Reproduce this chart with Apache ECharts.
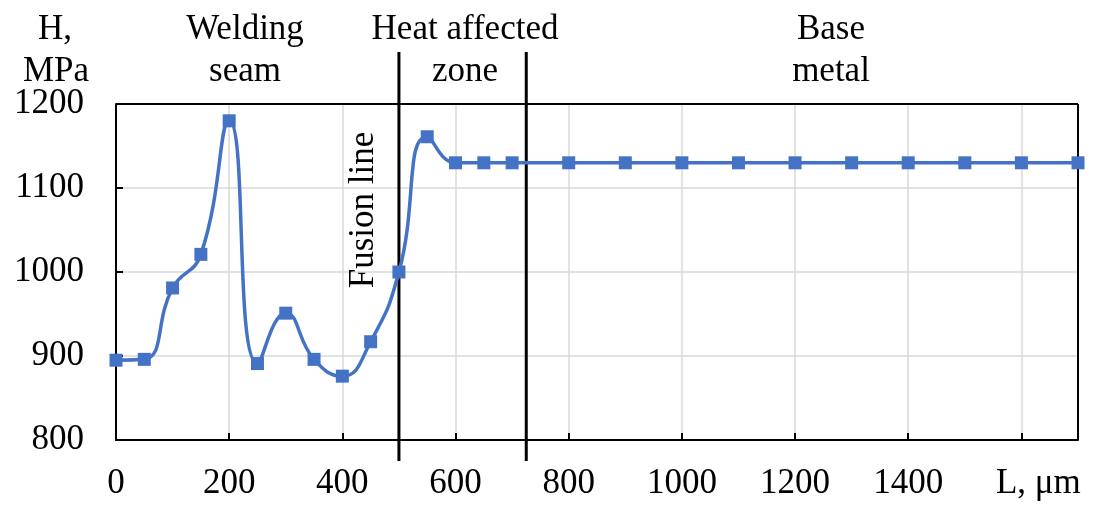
<!DOCTYPE html>
<html>
<head>
<meta charset="utf-8">
<script src="https://cdn.jsdelivr.net/npm/echarts@6/dist/echarts.min.js"></script>
<style>
  html, body { margin: 0; padding: 0; background: #fff; }
  #chart { width: 1096px; height: 506px; }
</style>
</head>
<body>
<div id="chart"></div>
<script>
// distance from the start, µm
const distance = [0, 50, 100, 150, 200, 250, 300, 350, 400, 450, 500, 550, 600, 650, 700,
  800, 900, 1000, 1100, 1200, 1300, 1400, 1500, 1600, 1700]
// microhardness H, MPa
const hardness = [895, 896, 981, 1021, 1180, 891, 951, 896, 876, 917, 1000, 1161, 1130, 1130, 1130,
  1130, 1130, 1130, 1130, 1130, 1130, 1130, 1130, 1130, 1130]
// zone boundaries (fusion line, HAZ / base metal)
const boundaries = [500, 725]
// zone captions
const zones = [
  { lines: ['Welding', 'seam'], x: 245 },
  { lines: ['Heat affected', 'zone'], x: 465 },
  { lines: ['Base', 'metal'], x: 831 }
]

const FONT = 'Liberation Serif'
const chart = echarts.init(document.getElementById('chart'))

chart.setOption({
  animation: false,
  textStyle: { fontFamily: FONT },
  grid: { left: 116, right: 18, top: 104, bottom: 66 },
  xAxis: {
    type: 'value',
    min: 0,
    max: 1700,
    interval: 200,
    axisLine: { lineStyle: { color: '#000', width: 2 } },
    axisTick: { inside: true, length: 7, lineStyle: { color: '#000', width: 2 } },
    splitLine: { show: true, lineStyle: { color: '#d9d9d9', width: 1.5 } },
    axisLabel: {
      color: '#000',
      fontFamily: FONT,
      fontSize: 35,
      margin: 26,
      showMaxLabel: false,
      formatter: v => (v === 1600 ? '{u|L, μm}' : String(v)),
      rich: { u: { fontFamily: FONT, fontSize: 35, color: '#000', padding: [0, 0, 0, 34] } }
    }
  },
  yAxis: {
    type: 'value',
    min: 800,
    max: 1200,
    interval: 100,
    axisLine: { show: true, lineStyle: { color: '#000', width: 2 } },
    axisTick: { show: true, inside: true, length: 7, lineStyle: { color: '#000', width: 2 } },
    splitLine: { show: true, lineStyle: { color: '#d9d9d9', width: 1.5 } },
    axisLabel: { color: '#000', fontFamily: FONT, fontSize: 35, margin: 32, formatter: v => String(v) }
  },
  series: [{
    type: 'line',
    data: distance.map((d, i) => [d, hardness[i]]),
    smooth: 0.5,
    symbol: 'rect',
    symbolSize: 13,
    lineStyle: { color: '#4472c4', width: 3.5 },
    itemStyle: { color: '#4472c4' }
  }]
})

// frame lines, zone boundaries and captions
function drawAnnotations () {
  const top = chart.convertToPixel({ yAxisIndex: 0 }, 1200)
  const left = chart.convertToPixel({ xAxisIndex: 0 }, 0)
  const right = chart.convertToPixel({ xAxisIndex: 0 }, 1700)
  const bottom = chart.convertToPixel({ yAxisIndex: 0 }, 800)
  const font = '35px "Liberation Serif", serif'
  const elements = [
    { type: 'line', shape: { x1: left, y1: top, x2: right, y2: top }, style: { stroke: '#000', lineWidth: 2 } },
    { type: 'line', shape: { x1: right, y1: top, x2: right, y2: bottom }, style: { stroke: '#000', lineWidth: 2 } }
  ]
  boundaries.forEach(b => {
    const x = chart.convertToPixel({ xAxisIndex: 0 }, b)
    elements.push({ type: 'line', shape: { x1: x, y1: 52, x2: x, y2: 461 }, style: { stroke: '#000', lineWidth: 3 } })
  })
  zones.forEach(z => {
    z.lines.forEach((t, k) => {
      elements.push({
        type: 'text', x: z.x, y: 30 + k * 42,
        style: { text: t, font, fill: '#000', align: 'center', verticalAlign: 'middle' }
      })
    })
  })
  elements.push(
    { type: 'text', x: 55, y: 30, style: { text: 'H,', font, fill: '#000', align: 'center', verticalAlign: 'middle' } },
    { type: 'text', x: 56, y: 72, style: { text: 'MPa', font, fill: '#000', align: 'center', verticalAlign: 'middle' } },
    { type: 'text', x: 364, y: 210, rotation: Math.PI / 2,
      style: { text: 'Fusion line', font, fill: '#000', align: 'center', verticalAlign: 'middle' } }
  )
  chart.setOption({ graphic: { elements } })
}
drawAnnotations()
</script>
</body>
</html>
